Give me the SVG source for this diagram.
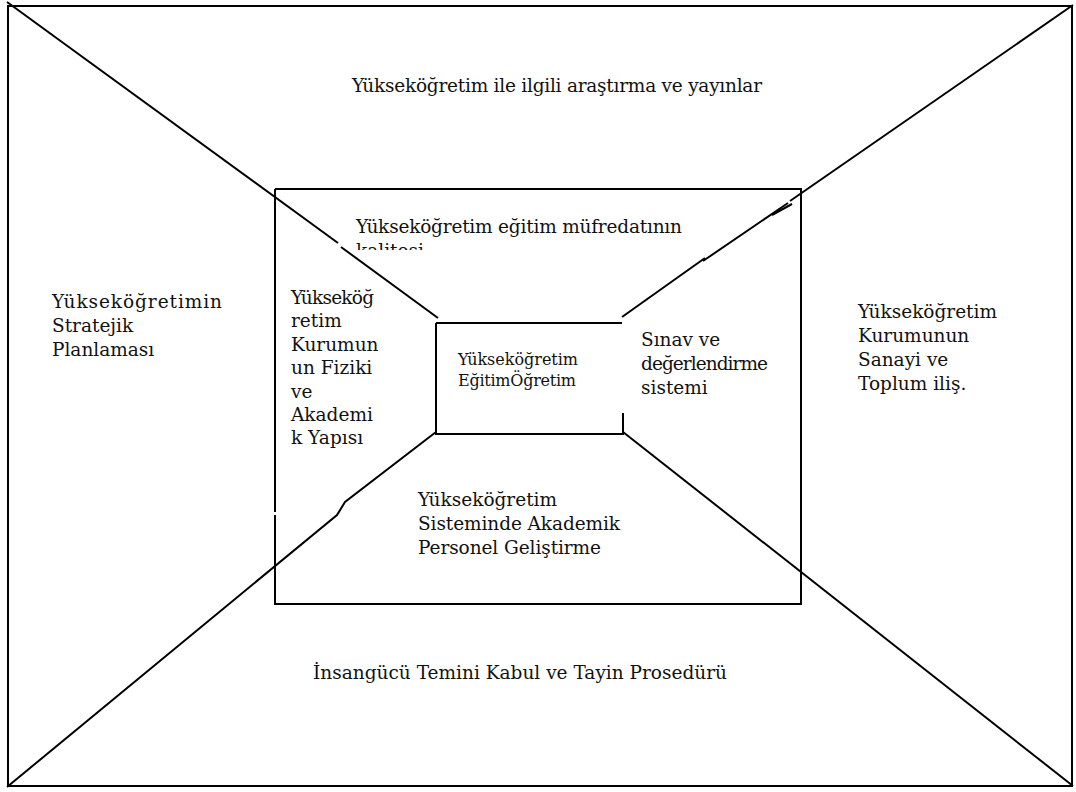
<svg xmlns="http://www.w3.org/2000/svg" width="1076" height="792" viewBox="0 0 1076 792">
<style>
.ln{fill:none;stroke:#000;stroke-width:2;stroke-linecap:butt}
.t{font-family:"DejaVu Serif","Liberation Serif",serif;font-size:18.5px;fill:#111}
.s{font-size:16px}
</style>
<defs>
<clipPath id="clipK"><rect x="340" y="200" width="360" height="50"/></clipPath>
</defs>
<rect width="1076" height="792" fill="#fff"/>
<g id="frame">
<rect class="ln" x="8" y="6" width="1064" height="780"/>
</g>
<g id="connectors">
<polyline class="ln" points="7,2 338,243"/>
<polyline class="ln" points="341,247 438,318"/>
<polyline class="ln" points="1073,5 790,201"/>
<polyline class="ln" points="792,204 772,215"/>
<polyline class="ln" points="788,203 703,261"/>
<polyline class="ln" points="705,258 622,317"/>
<polyline class="ln" points="7,787 337,515 345,502 436,432"/>
<polyline class="ln" points="623,432 1073,786"/>
</g>
<g id="middle">
<path class="ln" d="M275,189 H801 V604 H275 V515 M275,512 V189"/>
</g>
<g id="inner">
<path class="ln" d="M436,323 H622 M436,323 V434 H623 V413"/>
<text class="t s" x="458" y="365" textLength="120" lengthAdjust="spacing">Yükseköğretim</text>
<text class="t s" x="458" y="386" textLength="118" lengthAdjust="spacing">EğitimÖğretim</text>
</g>
<g id="top">
<text class="t" x="352" y="92" textLength="410" lengthAdjust="spacing">Yükseköğretim ile ilgili araştırma ve yayınlar</text>
</g>
<g id="quality">
<text class="t" x="356" y="233" textLength="326" lengthAdjust="spacing">Yükseköğretim eğitim müfredatının</text>
<text class="t" x="356" y="257" clip-path="url(#clipK)">kalitesi</text>
</g>
<g id="left">
<text class="t" x="52" y="308" textLength="170" lengthAdjust="spacing">Yükseköğretimin</text>
<text class="t" x="52" y="332">Stratejik</text>
<text class="t" x="52" y="356">Planlaması</text>
</g>
<g id="structure">
<text class="t" x="291" y="304" textLength="83" lengthAdjust="spacing">Yükseköğ</text>
<text class="t" x="291" y="327">retim</text>
<text class="t" x="291" y="351">Kurumun</text>
<text class="t" x="291" y="374">un Fiziki</text>
<text class="t" x="291" y="398">ve</text>
<text class="t" x="291" y="421">Akademi</text>
<text class="t" x="291" y="444">k Yapısı</text>
</g>
<g id="exam">
<text class="t" x="641" y="346">Sınav ve</text>
<text class="t" x="641" y="370" textLength="127" lengthAdjust="spacing">değerlendirme</text>
<text class="t" x="641" y="394">sistemi</text>
</g>
<g id="right">
<text class="t" x="858" y="318" textLength="139" lengthAdjust="spacing">Yükseköğretim</text>
<text class="t" x="858" y="342">Kurumunun</text>
<text class="t" x="858" y="366">Sanayi ve</text>
<text class="t" x="858" y="390">Toplum iliş.</text>
</g>
<g id="staff">
<text class="t" x="418" y="506">Yükseköğretim</text>
<text class="t" x="418" y="530" textLength="202" lengthAdjust="spacing">Sisteminde Akademik</text>
<text class="t" x="418" y="554" textLength="183" lengthAdjust="spacing">Personel Geliştirme</text>
</g>
<g id="bottom">
<text class="t" x="313" y="679" textLength="414" lengthAdjust="spacing">İnsangücü Temini Kabul ve Tayin Prosedürü</text>
</g>
</svg>
